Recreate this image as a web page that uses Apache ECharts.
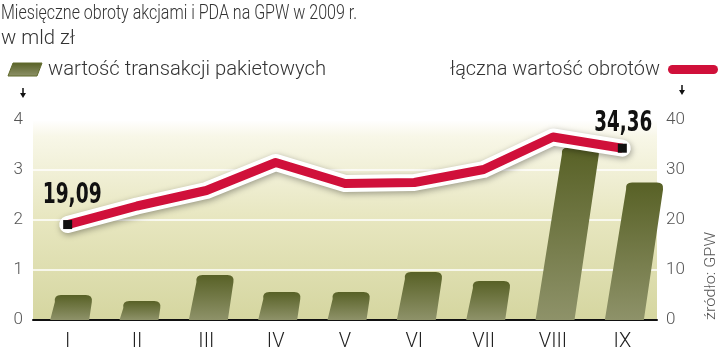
<!DOCTYPE html>
<html><head><meta charset="utf-8">
<script src="https://cdn.jsdelivr.net/npm/echarts@6/dist/echarts.min.js"></script>
<style>html,body{margin:0;padding:0;background:#fff}#c{width:720px;height:352px}</style>
</head><body><div id="c"></div>
<script>
const categories = ['I','II','III','IV','V','VI','VII','VIII','IX'];
const blockTrades = [0.5, 0.38, 0.9, 0.56, 0.56, 0.96, 0.78, 3.45, 2.75];
const totalTurnover = [19.09, 22.8, 25.9, 31.5, 27.3, 27.5, 30.1, 36.6, 34.36];
const leftTicks = [0, 1, 2, 3, 4];
const rightTicks = [0, 10, 20, 30, 40];
const titleText = 'Miesięczne obroty akcjami i PDA na GPW w 2009 r.';
const unitText = 'w mld zł';
const legendBars = 'wartość transakcji pakietowych';
const legendLine = 'łączna wartość obrotów';
const sourceText = 'źródło: GPW';

const chart = echarts.init(document.getElementById('c'));
const lightFont = 'Roboto, "DejaVu Sans", sans-serif';
const boldFont = '"DejaVu Sans Condensed", "DejaVu Sans", sans-serif';
const barGrad = {type:'linear',x:0,y:0,x2:0,y2:1,colorStops:[{offset:0,color:'#586126'},{offset:1,color:'#8e9269'}]};

const cv = document.createElement('canvas').getContext('2d');
function fit(text, font, width) { cv.font = font; return width / cv.measureText(text).width; }

function barItem(params, api) {
  const base = api.coord([api.value(0), 0]);
  const top = api.coord([api.value(0), api.value(1)]);
  const h = base[1] - top[1];
  const w = 39, s = 0.147 * h, cx = base[0] + 2;
  const r = Math.min(7, h / 2);
  const BL = [cx - w/2, base[1]], TL = [cx - w/2 + s, top[1]];
  const TR = [cx + w/2 + s, top[1]], BR = [cx + w/2, base[1]];
  const len = Math.sqrt(s*s + h*h);
  const dx = -s/len*r, dy = h/len*r;
  const p = 'M' + BL[0] + ' ' + BL[1] +
    ' L' + (TL[0]-dx) + ' ' + (TL[1]+dy) +
    ' Q' + TL[0] + ' ' + TL[1] + ' ' + (TL[0]+r) + ' ' + TL[1] +
    ' L' + (TR[0]-r) + ' ' + TR[1] +
    ' Q' + TR[0] + ' ' + TR[1] + ' ' + (TR[0]+dx) + ' ' + (TR[1]+dy) +
    ' L' + BR[0] + ' ' + BR[1] + ' Z';
  return {type:'path', shape:{pathData:p}, style:{fill:barGrad}};
}

const lineData = totalTurnover.map((v, i) => {
  const last = i === totalTurnover.length - 1;
  if (i === 0 || last) return {value: v, symbol:'rect', symbolSize: 9, itemStyle:{color:'#111'}};
  return {value: v, symbol:'none'};
});

function txt(text, x, y, size, weight, family, width, fill, extra) {
  const sx = fit(text, weight + ' ' + size + 'px ' + family, width);
  return Object.assign({type:'text', x:x, y:y, scaleX:sx, z:100,
    style:{text:text, fontSize:size, fontWeight:weight, fontFamily:family, fill:fill, align:'left', verticalAlign:'middle'}}, extra || {});
}

chart.setOption({
  animation:false,
  grid:{left:33, right:63, top:120, bottom:31, show:true, borderWidth:0,
    backgroundColor:{type:'linear',x:0,y:0,x2:0,y2:1,colorStops:[
      {offset:0,color:'#ffffff'},{offset:0.08,color:'#f8f7e8'},{offset:0.5,color:'#e7e6bf'},{offset:1,color:'#d5d6a0'}]}},
  xAxis:{type:'category', data:categories, boundaryGap:true,
    axisLine:{lineStyle:{color:'#111', width:2}}, axisTick:{show:false},
    axisLabel:{color:'#222', fontSize:20, fontWeight:300, fontFamily:lightFont, margin:12}},
  yAxis:[
    {type:'value', min:leftTicks[0], max:leftTicks[leftTicks.length-1], interval:1,
      axisLine:{show:false}, axisTick:{show:false},
      axisLabel:{color:'#555', fontSize:17, fontWeight:300, fontFamily:lightFont, margin:10, align:'right'},
      splitLine:{lineStyle:{color:'#ffffff', width:1.5}}},
    {type:'value', min:rightTicks[0], max:rightTicks[rightTicks.length-1], interval:10,
      axisLine:{show:false}, axisTick:{show:false}, splitLine:{show:false},
      axisLabel:{color:'#555', fontSize:17, fontWeight:300, fontFamily:lightFont, margin:9, align:'left'}}
  ],
  series:[
    {type:'custom', yAxisIndex:0, renderItem: barItem, data: blockTrades.map((v,i)=>[i,v]), z:2},
    {type:'line', yAxisIndex:1, data: totalTurnover, symbol:'none', z:3,
      lineStyle:{color:'#ffffff', width:17, cap:'round', join:'round', shadowBlur:6, shadowColor:'rgba(0,0,0,0.35)', shadowOffsetX:1, shadowOffsetY:2}},
    {type:'line', yAxisIndex:1, data: lineData, symbol:'none', z:4,
      lineStyle:{color:'#d0103a', width:9, join:'round'}}
  ]
});

const n = totalTurnover.length;
const p0 = chart.convertToPixel({xAxisIndex:0, yAxisIndex:1}, [0, totalTurnover[0]]);
const p1 = chart.convertToPixel({xAxisIndex:0, yAxisIndex:1}, [n-1, totalTurnover[n-1]]);
const fmt = v => String(v).replace('.', ',');

chart.setOption({graphic:[
  txt(titleText, 1, 14, 21, 300, lightFont, 356, '#333'),
  txt(unitText, 1, 39, 21, 300, lightFont, 74, '#333'),
  {type:'polygon', shape:{points:[[8,76],[13,63],[42,63],[37,76]]}, style:{fill:barGrad, stroke:'#606a2c', lineWidth:1, lineJoin:'round'}},
  txt(legendBars, 48, 70, 21, 300, lightFont, 278, '#333'),
  txt(legendLine, 450, 70, 21, 300, lightFont, 210, '#333'),
  {type:'rect', shape:{x:668, y:65, width:50, height:9, r:4.5}, style:{fill:'#d0103a'}},
  {type:'line', shape:{x1:23, y1:88, x2:23, y2:94}, style:{stroke:'#111', lineWidth:1.5}},
  {type:'polygon', shape:{points:[[20,93],[26,93],[23,98]]}, style:{fill:'#111'}},
  {type:'line', shape:{x1:682, y1:85, x2:682, y2:91}, style:{stroke:'#111', lineWidth:1.5}},
  {type:'polygon', shape:{points:[[679,90],[685,90],[682,95]]}, style:{fill:'#111'}},
  txt(fmt(totalTurnover[0]), p0[0] - 25, p0[1] - 29, 28, 'bold', boldFont, 59, '#111'),
  txt(fmt(totalTurnover[n-1]), p1[0] - 28, p1[1] - 24, 28, 'bold', boldFont, 58, '#111'),
  txt(sourceText, 711, 320, 15, 300, lightFont, 88, '#555', {rotation: Math.PI/2})
]});
</script></body></html>
